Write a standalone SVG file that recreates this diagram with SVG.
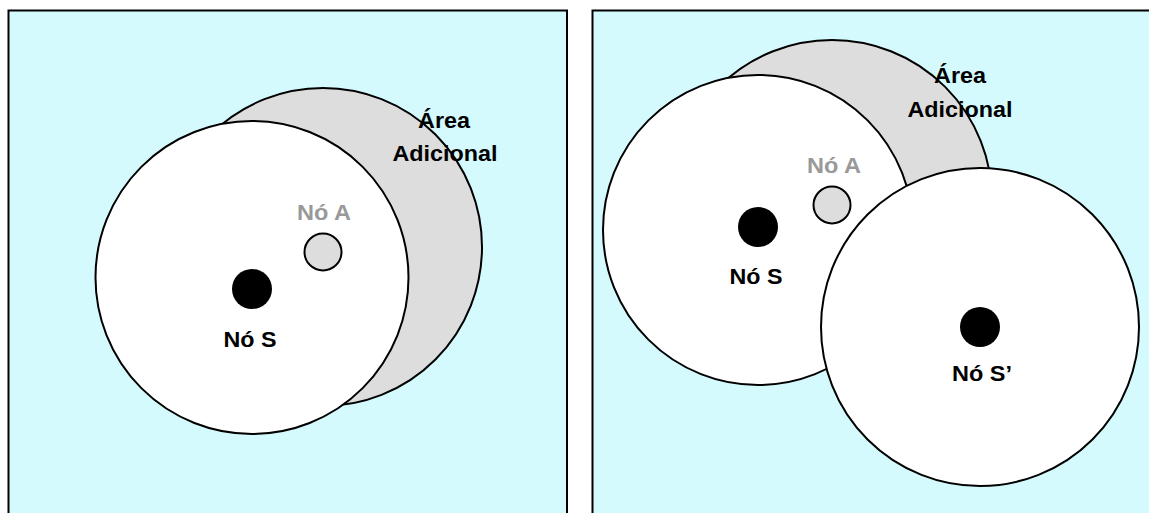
<svg xmlns="http://www.w3.org/2000/svg" width="1149" height="513" viewBox="0 0 1149 513">
  <style>
    .panel { fill: #d4fafd; stroke: #000; stroke-width: 2; }
    .range { fill: #fff; stroke: #000; stroke-width: 2; }
    .extra { fill: #dddddd; stroke: #000; stroke-width: 2; }
    .nodeA { fill: #dddddd; stroke: #000; stroke-width: 2; }
    .nodeS { fill: #000; }
    .lbl { font-family: "Liberation Sans", Arial, sans-serif; font-weight: bold; font-size: 22px; text-anchor: middle; fill: #000; }
    .lblA { fill: #999999; }
  </style>
  <rect width="1149" height="513" fill="#fff"/>

  <!-- Left panel: single transmitter S -->
  <g id="panel-left">
    <rect class="panel" x="8.5" y="10.5" width="558.5" height="520"/>
    <g id="left-area-A">
      <circle class="extra" cx="323" cy="247" r="159"/>
    </g>
    <g id="left-area-S">
      <circle class="range" cx="252" cy="277.5" r="156.5"/>
    </g>
    <g id="left-node-S">
      <circle class="nodeS" cx="252" cy="289" r="20"/>
      <text class="lbl" x="250" y="347" textLength="53" lengthAdjust="spacingAndGlyphs">Nó S</text>
    </g>
    <g id="left-node-A">
      <circle class="nodeA" cx="323" cy="252" r="18.5"/>
      <text class="lbl lblA" x="324" y="220" textLength="54" lengthAdjust="spacingAndGlyphs">Nó A</text>
    </g>
    <g id="left-label">
      <text class="lbl" x="444" y="128" textLength="52" lengthAdjust="spacingAndGlyphs">Área</text>
      <text class="lbl" x="445" y="161" textLength="105" lengthAdjust="spacingAndGlyphs">Adicional</text>
    </g>
  </g>

  <!-- Right panel: S plus a second transmitter S' -->
  <g id="panel-right">
    <rect class="panel" x="592.5" y="10.5" width="600" height="520"/>
    <g id="right-area-A">
      <circle class="extra" cx="832" cy="200" r="160"/>
    </g>
    <g id="right-area-S">
      <circle class="range" cx="758" cy="230" r="155"/>
    </g>
    <g id="right-area-S2">
      <circle class="range" cx="980" cy="327" r="159"/>
    </g>
    <g id="right-node-S">
      <circle class="nodeS" cx="758" cy="227" r="20"/>
      <text class="lbl" x="756" y="284" textLength="53" lengthAdjust="spacingAndGlyphs">Nó S</text>
    </g>
    <g id="right-node-A">
      <circle class="nodeA" cx="832" cy="205" r="18.5"/>
      <text class="lbl lblA" x="834" y="173" textLength="54" lengthAdjust="spacingAndGlyphs">Nó A</text>
    </g>
    <g id="right-node-S2">
      <circle class="nodeS" cx="980" cy="327" r="20"/>
      <text class="lbl" x="982" y="381" textLength="60" lengthAdjust="spacingAndGlyphs">Nó S’</text>
    </g>
    <g id="right-label">
      <text class="lbl" x="960" y="83" textLength="52" lengthAdjust="spacingAndGlyphs">Área</text>
      <text class="lbl" x="960" y="117" textLength="105" lengthAdjust="spacingAndGlyphs">Adicional</text>
    </g>
  </g>

  <!-- no connectors in this figure -->
  <g id="connectors"/>
</svg>
